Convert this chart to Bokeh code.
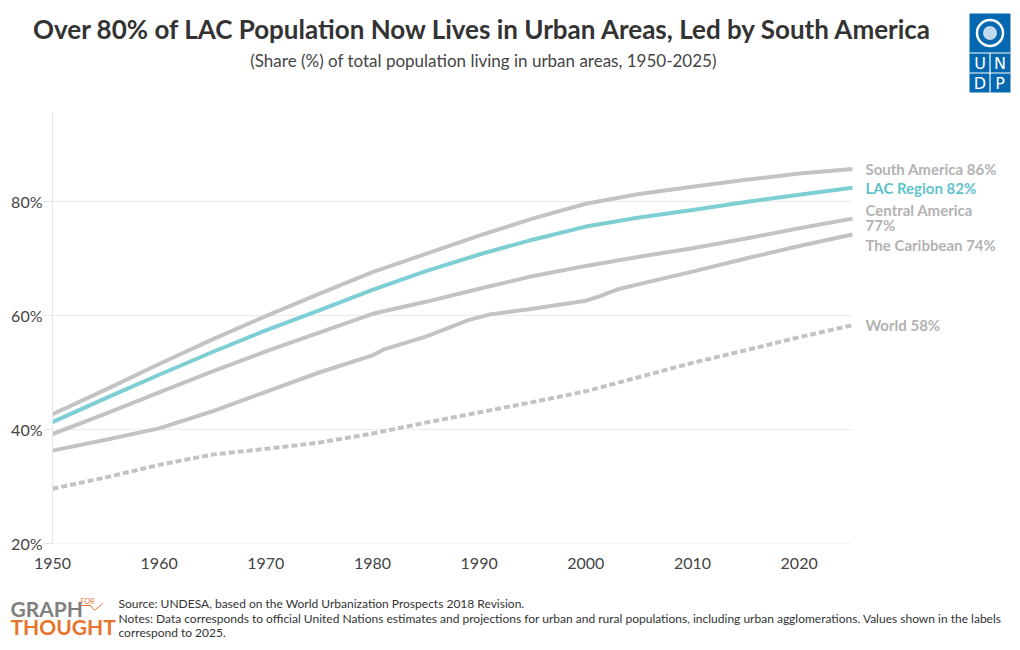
from bokeh.plotting import figure
from bokeh.layouts import column
from bokeh.models import Range1d, FixedTicker, PrintfTickFormatter
from bokeh.core.properties import value
from bokeh.embed import file_html
from bokeh.resources import INLINE

# ---------------- data ----------------
years_std = [1950, 1955, 1960, 1965, 1970, 1975, 1980, 1985, 1990, 1995, 2000, 2005, 2010, 2015, 2020, 2025]
south_america = [42.7, 47.0, 51.5, 55.8, 59.9, 63.8, 67.6, 70.8, 74.0, 77.0, 79.6, 81.3, 82.6, 83.8, 84.9, 85.7]
lac_region = [41.3, 45.5, 49.6, 53.6, 57.4, 60.9, 64.5, 67.8, 70.7, 73.3, 75.6, 77.2, 78.5, 79.9, 81.2, 82.4]
central_america = [39.2, 42.8, 46.5, 50.2, 53.7, 57.0, 60.3, 62.4, 64.7, 66.9, 68.7, 70.3, 71.8, 73.5, 75.3, 77.0]
world = [29.6, 31.6, 33.8, 35.6, 36.6, 37.7, 39.3, 41.2, 43.0, 44.8, 46.7, 49.2, 51.7, 53.9, 56.2, 58.3]

years_carib = [1950, 1955, 1960, 1965, 1970, 1975, 1980, 1981, 1985, 1989, 1991, 1995, 2000, 2001, 2003, 2005, 2010, 2015, 2020, 2025]
caribbean = [36.3, 38.2, 40.2, 43.2, 46.6, 50.0, 53.0, 54.0, 56.3, 59.2, 60.2, 61.2, 62.6, 63.2, 64.6, 65.5, 67.7, 70.0, 72.2, 74.2]

label_names = ["South America 86%", "LAC Region 82%", "Central America", "77%", "The Caribbean 74%", "World 58%"]
label_values = [south_america[-1], lac_region[-1], central_america[-1], central_america[-1], caribbean[-1], world[-1]]
label_shift = [0, 0, -9, 6, 10, 0]
label_colors = ["#b3b3b3", "#5fc4ca", "#b3b3b3", "#b3b3b3", "#b3b3b3", "#b3b3b3"]

y_ticks = [20, 40, 60, 80]
x_ticks = [1950, 1960, 1970, 1980, 1990, 2000, 2010, 2020]

title_text = "Over 80% of LAC Population Now Lives in Urban Areas, Led by South America"
subtitle_text = "(Share (%) of total population living in urban areas, 1950-2025)"
source_text = "Source: UNDESA, based on the World Urbanization Prospects 2018 Revision."
notes_lines = ["Notes: Data corresponds to official United Nations estimates and projections for urban and rural populations, including urban agglomerations. Values shown in the labels",
               "correspond to 2025."]

FONT = "Lato"
GREY = "#c3c3c3"
TEAL = "#7ecfd4"
W = 1016

# ---------------- header (pixel space) ----------------
hdr = figure(width=W, height=112, output_backend="svg", toolbar_location=None,
             x_range=Range1d(0, W), y_range=Range1d(112, 0),
             min_border=0, outline_line_color=None, frame_align=False)
hdr.axis.visible = False
hdr.grid.visible = False
hdr.text(x=[483], y=[28], text=[title_text], text_font=value(FONT), text_font_style="bold",
         text_font_size="26px", text_color="#333333", text_align="center", text_baseline="middle")
hdr.text(x=[483], y=[60], text=[subtitle_text], text_font=value(FONT),
         text_font_size="17px", text_color="#444444", text_align="center", text_baseline="middle")
# UNDP logo
BLUE = "#0468b1"
hdr.quad(left=[969], right=[1010], top=[13], bottom=[92], fill_color=BLUE, line_color=None)
hdr.segment(x0=[969, 969, 989.5], x1=[1010, 1010, 989.5], y0=[52.5, 72.5, 52.5], y1=[52.5, 72.5, 92],
            line_color="white", line_width=1.2)
hdr.circle(x=[989.5], y=[32.5], radius=13, fill_color=None, line_color="white", line_width=2.5)
hdr.circle(x=[989.5], y=[32.5], radius=7, fill_color="white", fill_alpha=0.75, line_color=None)
hdr.text(x=[979.5, 999.5, 979.5, 999.5], y=[63, 63, 83, 83], text=["U", "N", "D", "P"],
         text_font=value("DejaVu Sans"), text_font_size="16px", text_color="white",
         text_align="center", text_baseline="middle")

# ---------------- main chart ----------------
px_per_year = 800 / 75
x_end = 1950 + (W - 52) / px_per_year
p = figure(width=W, height=468, output_backend="svg", toolbar_location=None,
           x_range=Range1d(1950, x_end), y_range=Range1d(20, 20 + 431 / 5.7),
           min_border_left=52, min_border_right=0, min_border_top=0, min_border_bottom=37,
           outline_line_color=None, frame_align=False)

p.xaxis.ticker = FixedTicker(ticks=x_ticks)
p.yaxis.ticker = FixedTicker(ticks=y_ticks)
p.yaxis.formatter = PrintfTickFormatter(format="%d%%")
for ax in (p.xaxis[0], p.yaxis[0]):
    ax.major_label_text_font = FONT
    ax.major_label_text_font_size = "16px"
    ax.major_label_text_color = "#444444"
    ax.minor_tick_line_color = None
p.xaxis.axis_line_color = None
p.xaxis.major_tick_line_color = None
p.xaxis.major_label_standoff = 8
p.yaxis.axis_line_color = "#e6e6e6"
p.yaxis.major_tick_line_color = "#e6e6e6"
p.yaxis.major_tick_in = 0
p.yaxis.major_tick_out = 9
p.yaxis.major_label_standoff = 1
p.grid.visible = False

# horizontal grid lines, limited to the data span
p.segment(x0=[years_std[0]] * len(y_ticks), x1=[years_std[-1]] * len(y_ticks), y0=y_ticks, y1=y_ticks,
          line_color="#ececec", line_width=1)

# series
p.line(years_std, world, line_color=GREY, line_width=4, line_dash="6 3")
p.line(years_carib, caribbean, line_color=GREY, line_width=4)
p.line(years_std, central_america, line_color=GREY, line_width=4)
p.line(years_std, south_america, line_color=GREY, line_width=4)
p.line(years_std, lac_region, line_color=TEAL, line_width=4)

# end labels
p.text(x=[years_std[-1]] * len(label_names), y=label_values, text=label_names,
       x_offset=13, y_offset=label_shift, text_color=label_colors,
       text_font=value(FONT), text_font_style="bold", text_font_size="15px",
       text_baseline="middle")

# ---------------- footer (pixel space) ----------------
ftr = figure(width=W, height=70, output_backend="svg", toolbar_location=None,
             x_range=Range1d(0, W), y_range=Range1d(650, 580),
             min_border=0, outline_line_color=None, frame_align=False)
ftr.axis.visible = False
ftr.grid.visible = False
ftr.text(x=[118, 118, 118], y=[603, 618, 632], text=[source_text] + notes_lines,
         text_font=value(FONT), text_font_size="12px", text_color="#333333", text_baseline="middle")
ftr.text(x=[10], y=[608], text=["GRAPH"], text_font=value(FONT), text_font_style="bold",
         text_font_size="21px", text_color="#7f7f7f", text_baseline="middle")
ftr.text(x=[80], y=[600], text=["FOR"], text_font=value(FONT),
         text_font_size="7px", text_color="#e8742c", text_baseline="middle")
ftr.line(x=[80, 90, 94, 102], y=[605, 605, 610, 603], line_color="#e8742c", line_width=1)
ftr.text(x=[10], y=[626], text=["THOUGHT"], text_font=value(FONT), text_font_style="bold",
         text_font_size="21px", text_color="#e8742c", text_baseline="middle")

layout = column(hdr, p, ftr, spacing=0)
open("out.html", "w").write(file_html(layout, INLINE))
